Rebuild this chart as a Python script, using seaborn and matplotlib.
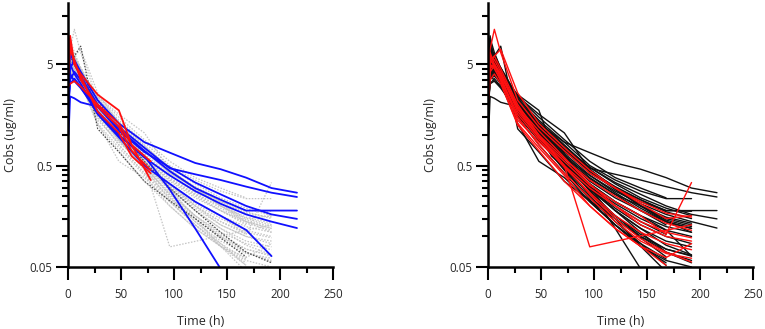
import numpy as np
import pandas as pd
import matplotlib.pyplot as plt
import seaborn as sns
from matplotlib.ticker import FixedLocator, NullFormatter

N = np.nan

# sampling times (h)
TIMES = [0.5, 2, 6, 12, 28, 48, 72, 96, 120, 144, 168, 192, 216]
RED_TIMES = [0.5, 2, 6, 12, 28, 48, 60, 78]

# left panel: blue subjects (solid blue)
BLUE_CONC = [
    [2.0, 4.5, 5.5, 4.2, 2.2, 1.3, 0.85, 0.67, 0.53, 0.46, 0.38, 0.30, 0.27],
    [1.0, 2.4, 2.3, 2.1, 1.9, 1.2, 0.75, 0.47, 0.41, 0.36, 0.31, 0.27, 0.245],
    [2.5, 6.5, 5.0, 3.8, 2.0, 1.15, 0.70, 0.44, 0.30, 0.23, 0.18, 0.18, 0.18],
    [1.8, 3.5, 4.2, 3.5, 1.9, 1.1, 0.68, 0.48, 0.34, 0.26, 0.20, 0.165, 0.149],
    [3.0, 5.0, 4.0, 3.2, 1.7, 1.0, 0.60, 0.40, 0.28, 0.21, 0.165, 0.14, 0.121],
    [2.2, 3.2, 3.6, 3.0, 1.6, 0.95, 0.50, 0.33, 0.22, 0.16, 0.116, 0.064, N],
    [2.8, 4.0, 3.4, 2.9, 1.7, 1.0, 0.62, 0.29, 0.12, 0.048, N, N, N],
]

# left panel: red subjects, short profiles
RED_CONC = [
    [6.0, 9.5, 5.0, 4.0, 2.5, 1.75, 0.80, 0.36],
    [4.0, 7.0, 5.5, 3.5, 1.9, 1.2, 0.70, 0.45],
    [3.0, 3.2, 3.4, 3.0, 2.0, 1.3, 0.80, 0.55],
    [5.0, 8.0, 5.0, 3.8, 1.7, 1.05, 0.62, 0.42],
]

# left panel: dark dotted subjects
DARK_CONC = [
    [3.0, 4.5, 6.0, 7.5, 1.15, 0.68, 0.35, 0.225, 0.15, 0.097, 0.063, N, N],
    [4.0, 6.0, 5.0, 4.0, 2.2, 1.1, 0.55, 0.30, 0.18, 0.11, 0.07, 0.055, N],
]

# left panel: light gray dotted subjects
GRAY_CONC = [
    [3.0, 5.5, 6.0, 4.5, 2.0, 1.0, 0.50, 0.079, N, N, N, 0.13, N],
    [2.5, 4.5, 5.0, 4.0, 1.8, 0.95, 0.55, 0.32, 0.22, 0.16, 0.105, 0.34, N],
    [4.0, 7.0, 11.0, 6.5, 2.2, 1.2, 0.70, 0.42, 0.30, 0.22, 0.17, 0.155, N],
    [3.0, 5.0, 6.0, 7.0, 2.6, 1.3, 0.75, 0.45, 0.30, 0.21, 0.15, 0.16, N],
    [3.5, 5.5, 5.0, 3.8, 1.4, 0.85, 0.50, 0.30, 0.20, 0.14, 0.11, 0.097, N],
    [2.8, 6.0, 5.5, 4.2, 1.9, 1.1, 0.60, 0.33, 0.20, 0.13, 0.10, 0.09, N],
    [4.5, 6.5, 5.0, 3.6, 1.6, 0.9, 0.48, 0.27, 0.16, 0.11, 0.085, 0.074, N],
    [3.2, 5.0, 4.5, 3.5, 1.5, 0.8, 0.42, 0.24, 0.14, 0.09, 0.068, 0.061, N],
    [2.6, 4.2, 4.8, 4.0, 1.7, 0.95, 0.50, 0.26, 0.15, 0.095, 0.07, 0.056, N],
    [3.8, 5.8, 4.6, 3.4, 1.3, 0.75, 0.40, 0.20, 0.12, 0.08, 0.052, N, N],
    [2.2, 3.5, 4.0, 3.2, 1.25, 0.7, 0.35, 0.20, 0.12, 0.08, 0.062, 0.085, N],
    [2.7, 4.6, 4.9, 3.9, 1.85, 1.0, 0.58, 0.36, 0.25, 0.18, 0.135, 0.115, N],
    [3.1, 4.9, 4.3, 3.4, 1.6, 0.92, 0.52, 0.31, 0.21, 0.15, 0.115, 0.10, N],
    [5.5, 7.5, 5.8, 4.4, 1.95, 1.05, 0.55, 0.30, 0.18, 0.12, 0.082, 0.066, N],
    [2.9, 4.4, 4.7, 3.7, 1.65, 0.9, 0.47, 0.26, 0.16, 0.105, 0.075, 0.064, N],
    [4.8, 7.2, 6.2, 4.6, 2.3, 1.35, 0.80, 0.46, 0.30, 0.20, 0.145, 0.125, N],
    [3.0, 5.0, 4.8, 4.0, 2.3, 1.4, 0.85, 0.50, 0.36, 0.28, 0.236, 0.236, N],
    [4.0, 6.0, 5.2, 4.2, 2.1, 1.2, 0.70, 0.42, 0.30, 0.22, 0.18, 0.177, N],
    [3.5, 5.5, 4.5, 3.6, 1.8, 1.05, 0.60, 0.35, 0.24, 0.18, 0.14, 0.12, N],
    [2.5, 4.0, 4.2, 3.5, 1.7, 0.95, 0.52, 0.30, 0.19, 0.13, 0.10, 0.085, N],
    [5.0, 8.0, 6.0, 4.5, 2.0, 1.1, 0.55, 0.28, 0.16, 0.10, 0.07, 0.058, N],
    [3.0, 4.5, 4.0, 3.3, 1.5, 0.8, 0.42, 0.22, 0.13, 0.085, 0.06, N, N],
    [4.2, 6.5, 5.5, 4.0, 1.9, 1.05, 0.50, 0.25, 0.14, 0.085, 0.052, N, N],
    [2.0, 3.8, 4.4, 3.9, 2.0, 1.15, 0.62, 0.30, 0.15, 0.08, 0.045, N, N],
    [3.6, 5.8, 5.0, 3.8, 1.6, 0.9, 0.45, 0.24, 0.15, 0.10, 0.075, 0.065, N],
    [2.8, 4.8, 5.4, 4.6, 2.4, 1.5, 0.90, 0.55, 0.38, 0.30, 0.24, N, N],
    [6.0, 9.0, 6.5, 4.5, 1.8, 0.95, 0.47, 0.23, 0.13, 0.08, 0.058, 0.05, N],
    [3.3, 5.2, 4.6, 3.7, 1.75, 1.0, 0.56, 0.33, 0.22, 0.16, 0.125, 0.11, N],
    [2.4, 4.3, 3.9, 3.2, 1.55, 0.88, 0.50, 0.29, 0.18, 0.12, 0.09, 0.079, N],
    [2.0, 3.5, 4.0, 3.8, 2.4, 1.6, 1.05, 0.45, 0.30, 0.20, 0.15, 0.13, N],
    [2.5, 4.5, 4.0, 3.2, 1.3, 0.55, 0.38, 0.22, 0.13, 0.08, 0.055, N, N],
    [3.4, 5.6, 5.2, 4.1, 2.0, 1.15, 0.66, 0.40, 0.27, 0.19, 0.14, 0.12, N],
    [4.4, 6.8, 5.6, 4.3, 2.1, 1.25, 0.72, 0.44, 0.31, 0.23, 0.175, 0.15, N],
    [2.3, 3.9, 4.6, 4.2, 2.2, 1.3, 0.78, 0.48, 0.33, 0.24, 0.19, 0.16, N],
    [3.9, 6.2, 5.1, 3.9, 1.7, 0.97, 0.54, 0.31, 0.20, 0.14, 0.105, N, N],
    [3.6, 5.3, 4.4, 3.5, 1.75, 1.02, 0.60, 0.37, 0.26, 0.20, 0.155, 0.135, N],
    [2.1, 3.6, 3.8, 3.3, 1.9, 1.2, 0.74, 0.44, 0.29, 0.20, 0.14, 0.11, N],
    [3.3, 5.1, 4.9, 4.0, 2.05, 1.12, 0.64, 0.38, 0.26, 0.18, 0.13, N, N],
]
# colour of each gray subject in the right panel
GRAY_RIGHT = [
    "red", "red", "red", "red", "red", "red", "red", "red", "red", "red", "red",
    "red", "black", "black", "black", "black",
    "black", "black", "black", "black", "black", "black", "black", "black",
    "black", "black", "black", "black", "black", "black", "black", "black",
    "black", "black", "black", "black", "black", "black",
]

LEFT_COLORS = {"gray": "#c4c4c4", "dark": "#4a4a4a", "blue": "#1010ff", "red": "#ff1010"}
LEFT_DASHES = {"gray": (1.2, 1.2), "dark": (1.2, 1.2), "blue": "", "red": ""}
LEFT_WIDTHS = {"gray": 0.9, "dark": 0.9, "blue": 1.3, "red": 1.3}
RIGHT_COLORS = {"black": "#111111", "red": "#ff1010"}

rows = []
sid = 0
for group, times, concs, right in [
    ("blue", TIMES, BLUE_CONC, ["black"] * len(BLUE_CONC)),
    ("red", RED_TIMES, RED_CONC, ["black"] * len(RED_CONC)),
    ("dark", TIMES, DARK_CONC, ["black"] * len(DARK_CONC)),
    ("gray", TIMES, GRAY_CONC, GRAY_RIGHT),
]:
    for conc, rcol in zip(concs, right):
        sid += 1
        for t, c in zip(times, conc):
            rows.append({"subject": sid, "time": t, "conc": c, "left": group, "right": rcol})
df = pd.DataFrame(rows).dropna()

sns.set_style("ticks")
plt.rcParams["font.family"] = ["Open Sans", "DejaVu Sans"]

fig = plt.figure(figsize=(7.65, 3.29), dpi=100)
ax1 = fig.add_axes([68 / 765, 1 - 267 / 329, 265 / 765, 264 / 329])
ax2 = fig.add_axes([488 / 765, 1 - 267 / 329, 265 / 765, 264 / 329])

sns.lineplot(data=df, x="time", y="conc", units="subject", estimator=None,
             hue="left", hue_order=["gray", "dark", "blue", "red"], palette=LEFT_COLORS,
             style="left", dashes=LEFT_DASHES, size="left", sizes=LEFT_WIDTHS,
             sort=False, legend=False, ax=ax1)
sns.lineplot(data=df, x="time", y="conc", units="subject", estimator=None,
             hue="right", hue_order=["black", "red"], palette=RIGHT_COLORS,
             sort=False, legend=False, linewidth=1.0, ax=ax2)

for ax in (ax1, ax2):
    ax.set_yscale("log")
    ax.set_xlim(0, 250)
    ax.set_ylim(0.05, 20)
    ax.set_xticks([0, 50, 100, 150, 200, 250])
    ax.xaxis.set_minor_locator(FixedLocator([25, 75, 125, 175, 225]))
    ax.yaxis.set_major_locator(FixedLocator([0.05, 0.5, 5]))
    ax.set_yticklabels(["0.05", "0.5", "5"])
    ax.yaxis.set_minor_locator(FixedLocator(
        [0.1, 0.15, 0.2, 0.25, 0.3, 0.35, 0.4, 0.45,
         1, 1.5, 2, 2.5, 3, 3.5, 4, 4.5, 10, 15]))
    ax.yaxis.set_minor_formatter(NullFormatter())
    ax.tick_params(which="major", length=9, width=1.5, labelsize=8.3, color="black")
    ax.tick_params(which="minor", length=4.5, width=1.5, color="black")
    ax.tick_params(axis="y", which="major", pad=2)
    ax.tick_params(axis="x", which="major", pad=6)
    sns.despine(ax=ax)
    for side in ("left", "bottom"):
        ax.spines[side].set_linewidth(1.8)
        ax.spines[side].set_color("black")
    ax.set_xlabel("Time (h)", fontsize=9, labelpad=10)
    ax.set_ylabel("Cobs (ug/ml)", fontsize=9, labelpad=9)

fig.savefig("out.png", dpi=100)
